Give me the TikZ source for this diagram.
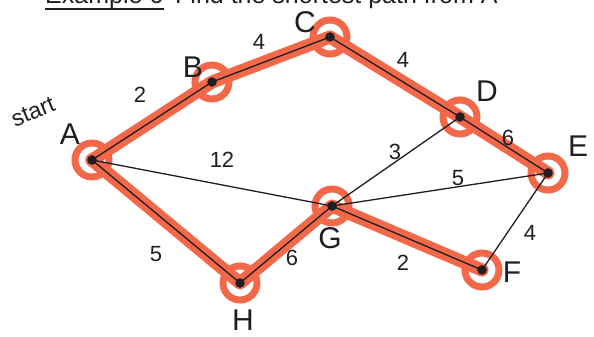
\documentclass[tikz,border=0pt]{standalone}
\usepackage{fontspec}
\setmainfont{Liberation Sans}
\definecolor{hl}{RGB}{243,104,72}
\definecolor{ink}{RGB}{30,30,35}
\begin{document}
\begin{tikzpicture}[x=1pt,y=-1pt,
  vtx/.style={circle,fill=ink,draw=ink,inner sep=0pt,minimum size=9pt},
  ring/.style={draw=hl,line width=7pt,circle,minimum size=34pt,inner sep=0pt},
  hlpath/.style={draw=hl,line width=13pt,line cap=round,line join=round},
  edge/.style={draw=ink,line width=1.3pt},
  lbl/.style={font=\fontsize{30}{30}\selectfont,text=ink,inner sep=1pt},
  wt/.style={font=\fontsize{22}{22}\selectfont,text=ink},
  head/.style={font=\fontsize{25}{25}\selectfont,text=ink,anchor=base west,inner sep=0pt}]
\useasboundingbox (0,0) rectangle (594,337);
\clip (0,0) rectangle (594,337);
\fill[white] (0,0) rectangle (594,337);
% header (cut off at top)
\node[head] (ex) at (45,4) {Example 6};
\draw[ink,line width=1.5pt] ([yshift=-5pt]ex.base west) -- ([yshift=-5pt]ex.base east);
\node[head] (fd) at (175,4) {Find the shortest path from A};
% coordinates
\coordinate (A) at (92,160);
\coordinate (B) at (212,82);
\coordinate (C) at (330,37);
\coordinate (D) at (460,117);
\coordinate (E) at (548,173);
\coordinate (F) at (482,270);
\coordinate (G) at (332,206);
\coordinate (H) at (240,283);
% highlighted paths
\draw[hlpath] (A) -- (B) -- (C) -- (D) -- (E);
\draw[hlpath] (A) -- (H) -- (G) -- (F);
\foreach \n in {A,B,C,D,E,F,G,H} \node[ring] (r\n) at (\n) {};
% edges
\draw[edge] (A) -- (B);
\draw[edge] (B) -- (C);
\draw[edge] (C) -- (D);
\draw[edge] (D) -- (E);
\draw[edge] (A) -- (G);
\draw[edge] (A) -- (H);
\draw[edge] (H) -- (G);
\draw[edge] (G) -- (D);
\draw[edge] (G) -- (E);
\draw[edge] (G) -- (F);
\draw[edge] (F) -- (E);
% vertices
\foreach \n in {A,B,C,D,E,F,G,H} \node[vtx] (v\n) at (\n) {};
% vertex labels
\node[lbl] (lA) at (70,134) {A};
\node[lbl] (lB) at (193,67) {B};
\node[lbl] (lC) at (305,22) {C};
\node[lbl] (lD) at (487,91) {D};
\node[lbl] (lE) at (578,146) {E};
\node[lbl] (lF) at (512,272) {F};
\node[lbl] (lG) at (330,238) {G};
\node[lbl] (lH) at (243,320) {H};
\node[font=\fontsize{23}{23}\selectfont,text=ink,rotate=22,inner sep=0pt] (st) at (33,112) {start};
% weights
\node[wt] (w1) at (140,95) {2};
\node[wt] (w2) at (259,42) {4};
\node[wt] (w3) at (403,60) {4};
\node[wt] (w4) at (508,138) {6};
\node[wt] (w5) at (222,160) {12};
\node[wt] (w6) at (395,152) {3};
\node[wt] (w7) at (458,178) {5};
\node[wt] (w8) at (530,233) {4};
\node[wt] (w9) at (156,254) {5};
\node[wt] (w10) at (292,258) {6};
\node[wt] (w11) at (403,263) {2};
\end{tikzpicture}
\end{document}
